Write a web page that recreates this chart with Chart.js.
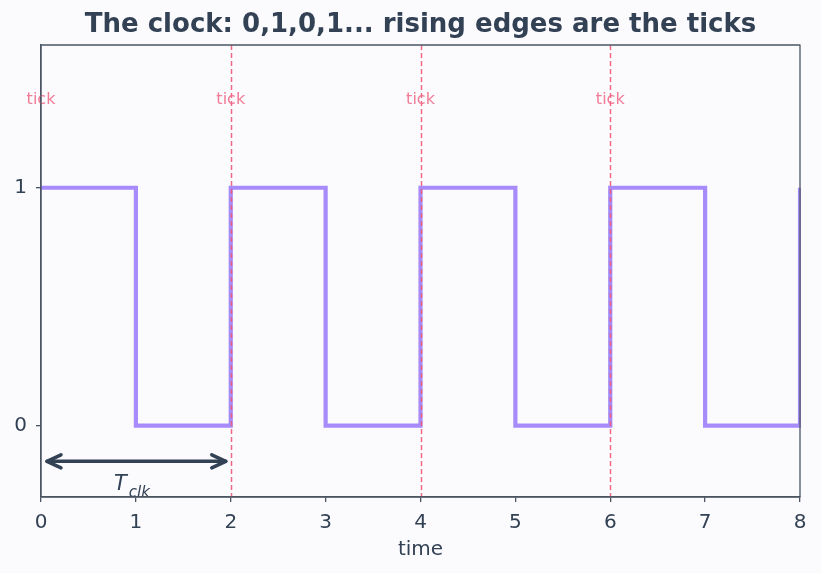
<!DOCTYPE html>
<html>
<head>
<meta charset="utf-8">
<script src="https://cdn.jsdelivr.net/npm/chart.js@4/dist/chart.umd.min.js"></script>
<style>
  html, body { margin: 0; padding: 0; background: #fbfbfe; }
  #wrap { width: 821px; height: 573px; }
</style>
</head>
<body>
<div id="wrap"><canvas id="c" width="821" height="573"></canvas></div>
<script>
// ---- data ----
const timePoints = [0, 1, 2, 3, 4, 5, 6, 7, 8];
const clockValues = [1, 0, 1, 0, 1, 0, 1, 0, 1];
const risingEdges = [2, 4, 6];
const tickLabelXs = [0, 2, 4, 6];
const tickLabelY = 1.37;
const tickLabelText = 'tick';
const periodStart = 0;
const periodEnd = 2;
const periodY = -0.15;
const periodLabelX = 1;
const periodLabelY = -0.265;
const xTicks = [0, 1, 2, 3, 4, 5, 6, 7, 8];
const yTicks = [0, 1];

const FONT = "'DejaVu Sans', sans-serif";
const TEXT = '#334155';
const AXIS = '#4b5563';

const overlay = {
  id: 'overlay',
  afterLayout(chart) {
    const t = chart.titleBlock, a = chart.chartArea;
    if (t) { t.left = a.left; t.right = a.right; t.width = a.right - a.left; }
  },
  afterDatasetsDraw(chart) {
    const ctx = chart.ctx, xs = chart.scales.x, ys = chart.scales.y, a = chart.chartArea;
    ctx.save();
    // rising-edge dashed lines
    ctx.strokeStyle = 'rgba(240,90,120,0.9)';
    ctx.lineWidth = 1.5;
    ctx.setLineDash([5, 3]);
    risingEdges.forEach(v => {
      const px = Math.round(xs.getPixelForValue(v)) + 0.5;
      ctx.beginPath(); ctx.moveTo(px, a.top); ctx.lineTo(px, a.bottom); ctx.stroke();
    });
    ctx.setLineDash([]);
    // tick labels
    ctx.fillStyle = 'rgba(240,100,130,0.85)';
    ctx.font = '16px ' + FONT;
    ctx.textAlign = 'center'; ctx.textBaseline = 'middle';
    tickLabelXs.forEach(v => ctx.fillText(tickLabelText, xs.getPixelForValue(v), ys.getPixelForValue(tickLabelY)));
    // period arrow
    const x0 = xs.getPixelForValue(periodStart) + 6, x1 = xs.getPixelForValue(periodEnd) - 5;
    const py = ys.getPixelForValue(periodY);
    ctx.strokeStyle = TEXT; ctx.lineWidth = 3.5; ctx.lineCap = 'round'; ctx.lineJoin = 'round';
    ctx.beginPath(); ctx.moveTo(x0, py); ctx.lineTo(x1, py); ctx.stroke();
    ctx.beginPath(); ctx.moveTo(x0 + 14, py - 6.5); ctx.lineTo(x0, py); ctx.lineTo(x0 + 14, py + 6.5); ctx.stroke();
    ctx.beginPath(); ctx.moveTo(x1 - 14, py - 6.5); ctx.lineTo(x1, py); ctx.lineTo(x1 - 14, py + 6.5); ctx.stroke();
    // T_clk label
    const cx = xs.getPixelForValue(periodLabelX), cy = ys.getPixelForValue(periodLabelY);
    ctx.fillStyle = TEXT;
    ctx.textAlign = 'left'; ctx.textBaseline = 'alphabetic';
    ctx.font = 'italic 21px ' + FONT;
    const wT = ctx.measureText('T').width;
    ctx.font = 'italic 15px ' + FONT;
    const wS = ctx.measureText('clk').width;
    const start = cx - (wT + wS) / 2 - 4;
    ctx.font = 'italic 21px ' + FONT;
    ctx.fillText('T', start - 1, cy + 1);
    ctx.font = 'italic 15px ' + FONT;
    ctx.fillText('clk', start + wT + 1, cy + 8);
    // frame
    ctx.strokeStyle = AXIS; ctx.lineWidth = 1.3;
    ctx.strokeRect(a.left, a.top, a.right - a.left, a.bottom - a.top);
    ctx.restore();
  }
};

new Chart(document.getElementById('c'), {
  type: 'line',
  data: {
    datasets: [{
      data: timePoints.map((t, i) => ({ x: t, y: clockValues[i] })),
      borderColor: '#a78bfa',
      borderWidth: 4.2,
      stepped: 'before',
      pointRadius: 0,
      fill: false,
      clip: 1
    }]
  },
  options: {
    responsive: false,
    animation: false,
    layout: { padding: { left: 0, right: 21, top: 0, bottom: 0 } },
    plugins: {
      legend: { display: false },
      tooltip: { enabled: false },
      title: {
        display: true,
        text: 'The clock: 0,1,0,1... rising edges are the ticks',
        color: TEXT,
        font: { family: FONT, size: 26, weight: 'bold', lineHeight: 1.2 },
        padding: { top: 10, bottom: 3.8 }
      }
    },
    scales: {
      x: {
        type: 'linear', min: 0, max: 8,
        afterBuildTicks: s => { s.ticks = xTicks.map(v => ({ value: v })); },
        afterFit: s => { s.height = 76; },
        grid: { display: true, drawOnChartArea: false, drawTicks: true, tickLength: 5, color: AXIS, lineWidth: 1.3 },
        border: { display: true, color: AXIS, width: 1.3 },
        ticks: { color: TEXT, font: { family: FONT, size: 20 }, padding: 8.5, maxRotation: 0 },
        title: { display: true, text: 'time', color: TEXT, font: { family: FONT, size: 20 }, padding: { top: 2, bottom: 11 } }
      },
      y: {
        type: 'linear', min: -0.3, max: 1.6,
        afterBuildTicks: s => { s.ticks = yTicks.map(v => ({ value: v })); },
        afterFit: s => { s.width = 41; },
        grid: { display: true, drawOnChartArea: false, drawTicks: true, tickLength: 5, color: AXIS, lineWidth: 1.3 },
        border: { display: true, color: AXIS, width: 1.3 },
        ticks: { color: TEXT, font: { family: FONT, size: 20 }, padding: 9 }
      }
    }
  },
  plugins: [overlay]
});
</script>
</body>
</html>
